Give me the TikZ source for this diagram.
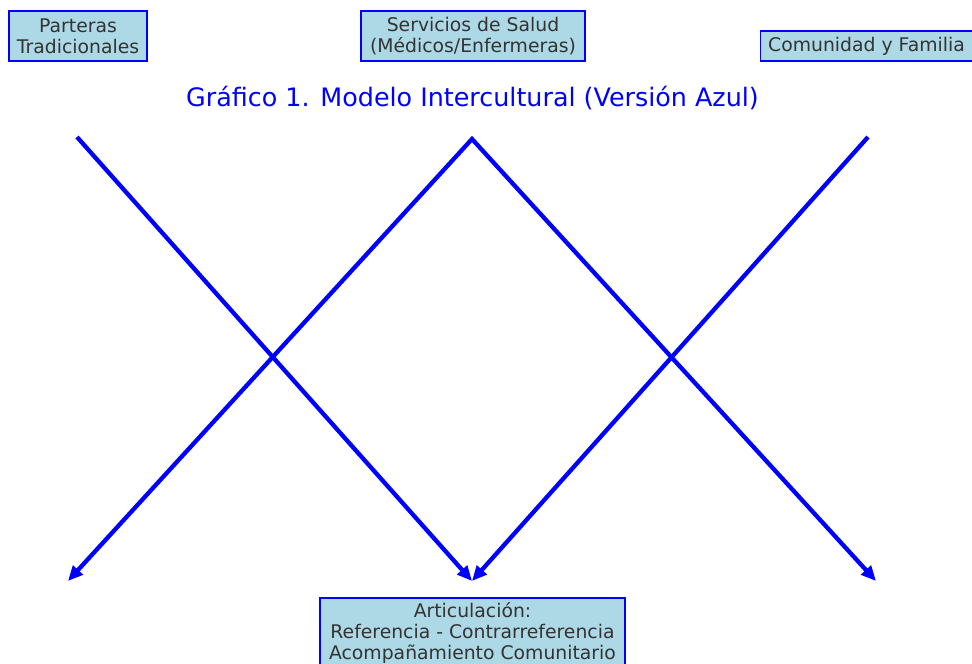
\documentclass[tikz,border=0pt]{standalone}
\usepackage{fontspec}
\setmainfont{DejaVu Sans}
\usetikzlibrary{arrows.meta}
\definecolor{txtgray}{HTML}{333333}
\definecolor{boxfill}{HTML}{ADD8E6}
\definecolor{pureblue}{HTML}{0000FF}
\tikzset{
  labelbox/.style={draw=pureblue, line width=1.5pt, fill=boxfill, text=txtgray, align=center,
    inner sep=0pt, font=\fontsize{18.8}{21}\selectfont},
  flowline/.style={draw=pureblue, line width=4.3pt, line join=miter, -{Triangle[length=15pt,width=13pt]}},
  twoheads/.style={{Triangle[length=15pt,width=13pt]}-{Triangle[length=15pt,width=13pt]}}
}
\begin{document}
\begin{tikzpicture}[x=1pt,y=-1pt]
\useasboundingbox (0,0) rectangle (972,664);
\node[labelbox, minimum width=138pt, minimum height=50pt] (parteras) at (78,36) {Parteras\\Tradicionales};
\node[labelbox, minimum width=224pt, minimum height=50pt] (servicios) at (473,36) {Servicios de Salud\\(Médicos/Enfermeras)};
\node[labelbox, minimum width=212pt, minimum height=30pt] (comunidad) at (866.5,46) {Comunidad y Familia};
\node[labelbox, minimum width=305pt, minimum height=70pt] (articulacion) at (472.5,633) {Articulación:\\Referencia - Contrarreferencia\\Acompañamiento Comunitario};
\node[text=pureblue, font=\fontsize{25.4}{30}\selectfont, inner sep=0pt] (titulo) at (472.5,98) {Gráfico 1. Modelo Intercultural (Versión Azul)};
\coordinate (pTop) at (77,137);
\coordinate (sTop) at (472,139);
\coordinate (cTop) at (868,137);
\coordinate (aL) at (68,581);
\coordinate (aM) at (472,581);
\coordinate (aR) at (876,581);
\draw[flowline] (pTop) -- (aM);
\draw[flowline, twoheads] (aL) -- (sTop) -- (aR);
\draw[flowline] (cTop) -- (aM);
\end{tikzpicture}
\end{document}
